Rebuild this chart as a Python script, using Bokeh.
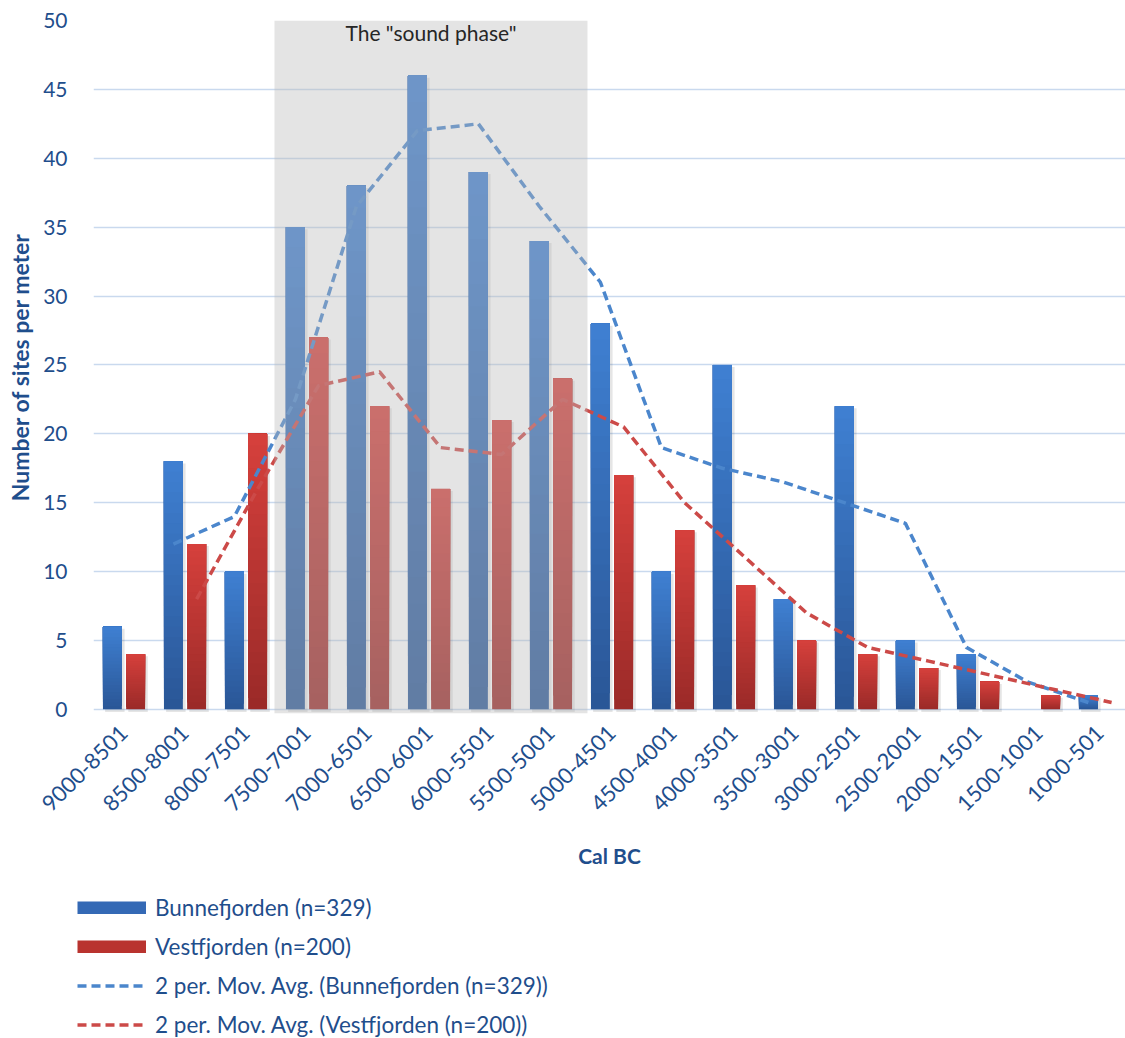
from bokeh.plotting import figure
from bokeh.models import (Range1d, FixedTicker, Legend, LegendItem, Label,
                          BoxAnnotation, ColumnDataSource)
from bokeh.embed import file_html
from bokeh.resources import INLINE

# ---- data -------------------------------------------------------------
periods = ["9000-8501", "8500-8001", "8000-7501", "7500-7001", "7000-6501",
           "6500-6001", "6000-5501", "5500-5001", "5000-4501", "4500-4001",
           "4000-3501", "3500-3001", "3000-2501", "2500-2001", "2000-1501",
           "1500-1001", "1000-501"]
bunnefjorden = [6, 18, 10, 35, 38, 46, 39, 34, 28, 10, 25, 8, 22, 5, 4, 0, 1]
vestfjorden = [4, 12, 20, 27, 22, 16, 21, 24, 17, 13, 9, 5, 4, 3, 2, 1, 0]
# 2-period moving averages, starting at the second period
mov_avg_bunnefjorden = [12, 14, 22.5, 36.5, 42, 42.5, 36.5, 31, 19, 17.5,
                        16.5, 15, 13.5, 4.5, 2, 0.5]
mov_avg_vestfjorden = [8, 16, 23.5, 24.5, 19, 18.5, 22.5, 20.5, 15, 11,
                       7, 4.5, 3.5, 2.5, 1.5, 0.5]
y_ticks = [0, 5, 10, 15, 20, 25, 30, 35, 40, 45, 50]
sound_phase = ("7500-7001", "5500-5001")
series_names = ["Bunnefjorden (n=329)", "Vestfjorden (n=200)"]

# ---- style ------------------------------------------------------------
FONT = "Lato"
TEXT_BLUE = "#1F4E8C"
BLUE_LINE = "#4b86cc"
RED_LINE = "#cc4a48"
BAR_W = 0.31
OFFSET = 0.19
N_STEPS = 24

p = figure(width=1125, height=880, output_backend="svg", toolbar_location=None,
           x_range=Range1d(-0.5, 16.418), y_range=Range1d(-0.3, 50),
           min_border_left=93, min_border_right=0, min_border_top=20,
           min_border_bottom=167)
p.outline_line_color = None
p.background_fill_color = "white"
p.border_fill_color = "white"


def mix(c0, c1, t):
    return "#%02x%02x%02x" % tuple(round(a + (b - a) * t) for a, b in zip(c0, c1))


def gradient_bars(values, shift, top_rgb, bottom_rgb):
    """Vertical colour gradient per bar: stacked quads, dark at the base."""
    d = dict(left=[], right=[], bottom=[], top=[], color=[])
    sh = dict(left=[], right=[], bottom=[], top=[])
    for i, v in enumerate(values):
        if v <= 0:
            continue
        x = i + shift
        sh["left"].append(x - BAR_W / 2 + 0.035)
        sh["right"].append(x + BAR_W / 2 + 0.045)
        sh["bottom"].append(-0.2)
        sh["top"].append(v - 0.15)
        for k in range(N_STEPS):
            d["left"].append(x - BAR_W / 2)
            d["right"].append(x + BAR_W / 2)
            d["bottom"].append(v * k / N_STEPS)
            d["top"].append(v)
            d["color"].append(mix(bottom_rgb, top_rgb, (k + 0.5) / N_STEPS))
    p.quad(left="left", right="right", bottom="bottom", top="top",
           source=ColumnDataSource(sh), fill_color="black", fill_alpha=0.10,
           line_color=None)
    return p.quad(left="left", right="right", bottom="bottom", top="top",
                  source=ColumnDataSource(d), fill_color="color",
                  line_color=None)


gradient_bars(bunnefjorden, -OFFSET, (63, 128, 210), (42, 86, 150))
gradient_bars(vestfjorden, OFFSET, (214, 64, 60), (154, 42, 40))

xs_b = [i - OFFSET for i in range(1, len(periods))]
xs_v = [i + OFFSET for i in range(1, len(periods))]
p.line(xs_b, mov_avg_bunnefjorden, line_color=BLUE_LINE, line_width=3.5,
       line_dash="9 5")
p.line(xs_v, mov_avg_vestfjorden, line_color=RED_LINE, line_width=3.5,
       line_dash="9 5")

# shaded "sound phase" block
i0 = periods.index(sound_phase[0])
i1 = periods.index(sound_phase[1])
p.add_layout(BoxAnnotation(left=i0 - 0.533, right=i1 + 0.598, bottom=-0.3, top=50,
                           fill_color="#bababa", fill_alpha=0.39,
                           line_color=None))
p.add_layout(Label(x=(i0 - 0.533 + i1 + 0.598) / 2, y=50, y_offset=1,
                   text='The "sound phase"', text_align="center",
                   text_baseline="top", text_font=FONT,
                   text_font_size="21px", text_color="#262626"))

# grid
p.xgrid.grid_line_color = None
p.ygrid.ticker = FixedTicker(ticks=y_ticks)
p.ygrid.grid_line_color = "#c9d9ee"
p.ygrid.grid_line_width = 1.5

# y axis
p.yaxis.ticker = FixedTicker(ticks=y_ticks)
p.yaxis.axis_line_color = None
p.yaxis.major_tick_line_color = None
p.yaxis.minor_tick_line_color = None
p.yaxis.major_label_standoff = 20
p.yaxis.major_label_text_font = FONT
p.yaxis.major_label_text_font_size = "21px"
p.yaxis.major_label_text_color = TEXT_BLUE
p.yaxis.axis_label = "Number of sites per meter"
p.yaxis.axis_label_text_font = FONT
p.yaxis.axis_label_text_font_size = "23px"
p.yaxis.axis_label_text_font_style = "bold"
p.yaxis.axis_label_text_color = TEXT_BLUE
p.yaxis.axis_label_standoff = 6

# x axis
p.xaxis.ticker = FixedTicker(ticks=list(range(len(periods))))
p.xaxis.major_label_overrides = {i: lab for i, lab in enumerate(periods)}
p.xaxis.major_label_orientation = 0.785398
p.xaxis.axis_line_color = None
p.xaxis.major_tick_line_color = None
p.xaxis.minor_tick_line_color = None
p.xaxis.major_label_standoff = 10
p.xaxis.major_label_text_font = FONT
p.xaxis.major_label_text_font_size = "22px"
p.xaxis.major_label_text_color = TEXT_BLUE
p.xaxis.axis_label = "Cal BC"
p.xaxis.axis_label_text_font = FONT
p.xaxis.axis_label_text_font_size = "21px"
p.xaxis.axis_label_text_font_style = "bold"
p.xaxis.axis_label_text_color = TEXT_BLUE
p.xaxis.axis_label_standoff = 22

# ---- legend strip under the chart --------------------------------------
lg = figure(width=1125, height=158, output_backend="svg", toolbar_location=None,
            x_axis_type=None, y_axis_type=None, x_range=Range1d(0, 1),
            y_range=Range1d(0, 1), min_border=0)
lg.outline_line_color = None
lg.xgrid.visible = False
lg.ygrid.visible = False

# swatch renderers: one off-canvas sample each, only their legend glyphs show
sw_b = lg.line([5, 6], [5, 6], line_color="#3469b5", line_width=13, line_cap="butt")
sw_v = lg.line([5, 6], [5, 6], line_color="#b9332f", line_width=13, line_cap="butt")
sw_mb = lg.line([5, 6], [5, 6], line_color=BLUE_LINE, line_width=3.5, line_dash="9 5")
sw_mv = lg.line([5, 6], [5, 6], line_color=RED_LINE, line_width=3.5, line_dash="9 5")

legend = Legend(items=[
    LegendItem(label=series_names[0], renderers=[sw_b]),
    LegendItem(label=series_names[1], renderers=[sw_v]),
    LegendItem(label=f"2 per. Mov. Avg. ({series_names[0]})", renderers=[sw_mb]),
    LegendItem(label=f"2 per. Mov. Avg. ({series_names[1]})", renderers=[sw_mv]),
], location=(77, 0), orientation="vertical")
legend.glyph_width = 69
legend.glyph_height = 13
legend.label_height = 27
legend.spacing = 12
legend.label_standoff = 9
legend.padding = 0
legend.margin = 0
legend.border_line_color = None
legend.background_fill_alpha = 0
legend.label_text_font = FONT
legend.label_text_font_size = "22.5px"
legend.label_text_color = TEXT_BLUE
lg.add_layout(legend, "center")

open("out.html", "w").write(file_html([p, lg], INLINE))
